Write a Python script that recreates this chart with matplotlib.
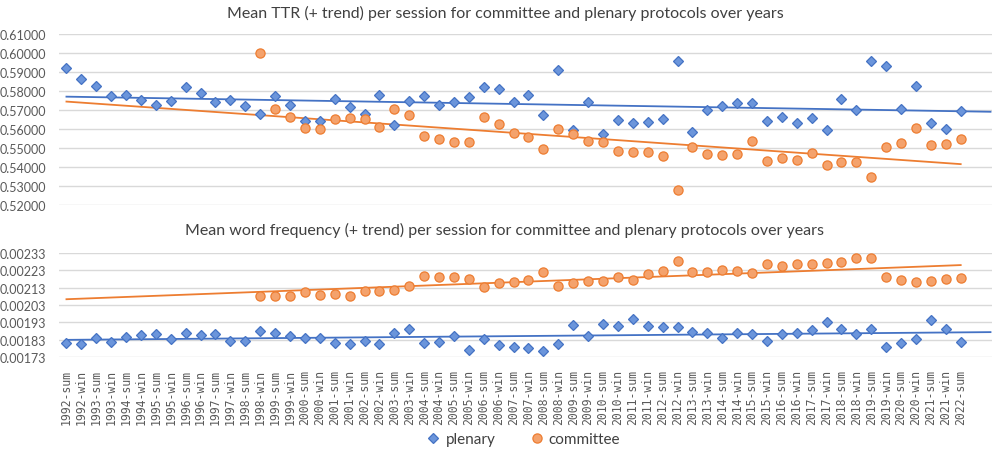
import matplotlib
matplotlib.use("Agg")
import matplotlib.pyplot as plt
import numpy as np
from matplotlib.ticker import FormatStrFormatter

# categories: 1992-sum ... 2022-sum
sessions = []
for year in range(1992, 2023):
    sessions.append(f"{year}-sum")
    if year < 2022:
        sessions.append(f"{year}-win")

nan = np.nan

ttr_plenary = [
    0.5921, 0.5861, 0.5825, 0.5775, 0.5777, 0.5754, 0.5726, 0.5749, 0.5821, 0.5788,
    0.5740, 0.5754, 0.5721, 0.5681, 0.5772, 0.5726, 0.5640, 0.5644, 0.5759, 0.5718,
    0.5677, 0.5779, 0.5621, 0.5747, 0.5774, 0.5726, 0.5742, 0.5767, 0.5819, 0.5812,
    0.5744, 0.5777, 0.5674, 0.5912, 0.5596, 0.5744, 0.5575, 0.5649, 0.5630, 0.5637,
    0.5655, 0.5956, 0.5584, 0.5700, 0.5721, 0.5739, 0.5735, 0.5644, 0.5661, 0.5630,
    0.5660, 0.5595, 0.5758, 0.5702, 0.5956, 0.5933, 0.5705, 0.5826, 0.5630, 0.5598,
    0.5695,
]
ttr_committee = [
    nan, nan, nan, nan, nan, nan, nan, nan, nan, nan,
    nan, nan, nan, 0.6002, 0.5704, 0.5663, 0.5607, 0.5600, 0.5655, 0.5659,
    0.5653, 0.5609, 0.5705, 0.5672, 0.5563, 0.5546, 0.5530, 0.5530, 0.5665, 0.5628,
    0.5581, 0.5558, 0.5496, 0.5600, 0.5575, 0.5539, 0.5532, 0.5484, 0.5479, 0.5477,
    0.5456, 0.5277, 0.5504, 0.5470, 0.5463, 0.5468, 0.5539, 0.5433, 0.5449, 0.5437,
    0.5472, 0.5411, 0.5428, 0.5428, 0.5346, 0.5505, 0.5526, 0.5605, 0.5518, 0.5519,
    0.5549,
]

freq_plenary = [
    0.001811, 0.001804, 0.001838, 0.001819, 0.001844, 0.001856, 0.001860, 0.001836, 0.001866, 0.001856,
    0.001860, 0.001825, 0.001825, 0.001879, 0.001871, 0.001854, 0.001842, 0.001842, 0.001811, 0.001804,
    0.001823, 0.001807, 0.001871, 0.001893, 0.001809, 0.001815, 0.001850, 0.001771, 0.001833, 0.001800,
    0.001790, 0.001784, 0.001767, 0.001804, 0.001912, 0.001852, 0.001922, 0.001910, 0.001947, 0.001910,
    0.001902, 0.001902, 0.001877, 0.001867, 0.001838, 0.001867, 0.001860, 0.001823, 0.001860, 0.001867,
    0.001883, 0.001931, 0.001891, 0.001864, 0.001889, 0.001786, 0.001809, 0.001836, 0.001945, 0.001891,
    0.001819,
]
freq_committee = [
    nan, nan, nan, nan, nan, nan, nan, nan, nan, nan,
    nan, nan, nan, 0.002082, 0.002080, 0.002084, 0.002107, 0.002088, 0.002092, 0.002080,
    0.002109, 0.002109, 0.002115, 0.002138, 0.002198, 0.002189, 0.002189, 0.002179, 0.002135, 0.002158,
    0.002164, 0.002177, 0.002220, 0.002138, 0.002156, 0.002169, 0.002167, 0.002193, 0.002173, 0.002208,
    0.002225, 0.002284, 0.002222, 0.002222, 0.002233, 0.002229, 0.002216, 0.002266, 0.002256, 0.002264,
    0.002264, 0.002274, 0.002278, 0.002299, 0.002299, 0.002193, 0.002173, 0.002164, 0.002169, 0.002179,
    0.002185,
]

BLUE = "#4472C4"
BLUE_FILL = "#6B95DB"
ORANGE = "#ED7D31"
ORANGE_FILL = "#F4A26C"
GRID = "#D9D9D9"
TEXT = "#404040"
TICK = "#595959"

plt.rcParams["font.family"] = ["Lato", "DejaVu Sans"]

W, H = 992, 452
fig = plt.figure(figsize=(W / 100, H / 100), dpi=100)


def px_axes(left, top, right, bottom):
    return fig.add_axes([left / W, 1 - bottom / H, (right - left) / W, (bottom - top) / H])


def trend(values, x_end):
    y = np.asarray(values, dtype=float)
    x = np.arange(len(y))
    ok = np.isfinite(y)
    slope, icpt = np.polyfit(x[ok], y[ok], 1)
    xs = np.array([0, x_end])
    return xs, slope * xs + icpt


def draw_panel(ax, plenary, committee, ylim, step, title, title_y):
    x = np.arange(len(sessions))
    ax.plot(x, plenary, linestyle="none", marker="D", markersize=5.2,
            markerfacecolor=BLUE_FILL, markeredgecolor=BLUE, markeredgewidth=0.9,
            label="plenary", zorder=3)
    ax.plot(x, committee, linestyle="none", marker="o", markersize=6.6,
            markerfacecolor=ORANGE_FILL, markeredgecolor=ORANGE, markeredgewidth=0.9,
            label="committee", zorder=3)
    tx, ty = trend(plenary, len(sessions) + 1)
    ax.plot(tx, ty, color=BLUE, linewidth=1.3, zorder=2)
    tx, ty = trend(committee, len(sessions) - 1)
    ax.plot(tx, ty, color=ORANGE, linewidth=1.3, zorder=2)

    ax.set_xlim(-0.5, len(sessions) + 1.1)
    ax.set_ylim(*ylim)
    ax.set_yticks(np.arange(ylim[0], ylim[1] + step / 2, step))
    ax.yaxis.set_major_formatter(FormatStrFormatter("%.5f"))
    ax.grid(axis="y", color=GRID, linewidth=1.0)
    ax.set_axisbelow(True)
    for s in ax.spines.values():
        s.set_visible(False)
    ax.tick_params(axis="y", length=0, pad=9, labelsize=9, labelcolor=TICK)
    fig.text(505 / W, 1 - title_y / H, title, ha="center", va="center",
             fontsize=11.5, color=TEXT)


ax1 = px_axes(59, 35, 992, 206)
draw_panel(ax1, ttr_plenary, ttr_committee, (0.52, 0.61), 0.01,
           "Mean TTR (+ trend) per session for committee and plenary protocols over years", 13)
ax1.set_xticks([])

ax2 = px_axes(59, 254, 992, 358)
draw_panel(ax2, freq_plenary, freq_committee, (0.00173, 0.00233), 0.0001,
           "Mean word frequency (+ trend) per session for committee and plenary protocols over years", 230)
ax2.set_xticks(np.arange(len(sessions)))
ax2.set_xticklabels(sessions, rotation=90, family="DejaVu Sans Mono", fontsize=8.3, color=TICK)
ax2.tick_params(axis="x", length=0, pad=9)

handles, labels = ax2.get_legend_handles_labels()
fig.legend(handles, labels, loc="center", bbox_to_anchor=(523 / W, 1 - 440 / H), ncol=2,
           frameon=False, fontsize=11, handletextpad=0.3, columnspacing=2.2,
           labelcolor=TEXT, handlelength=1.0)

fig.savefig("out.png", dpi=100)
